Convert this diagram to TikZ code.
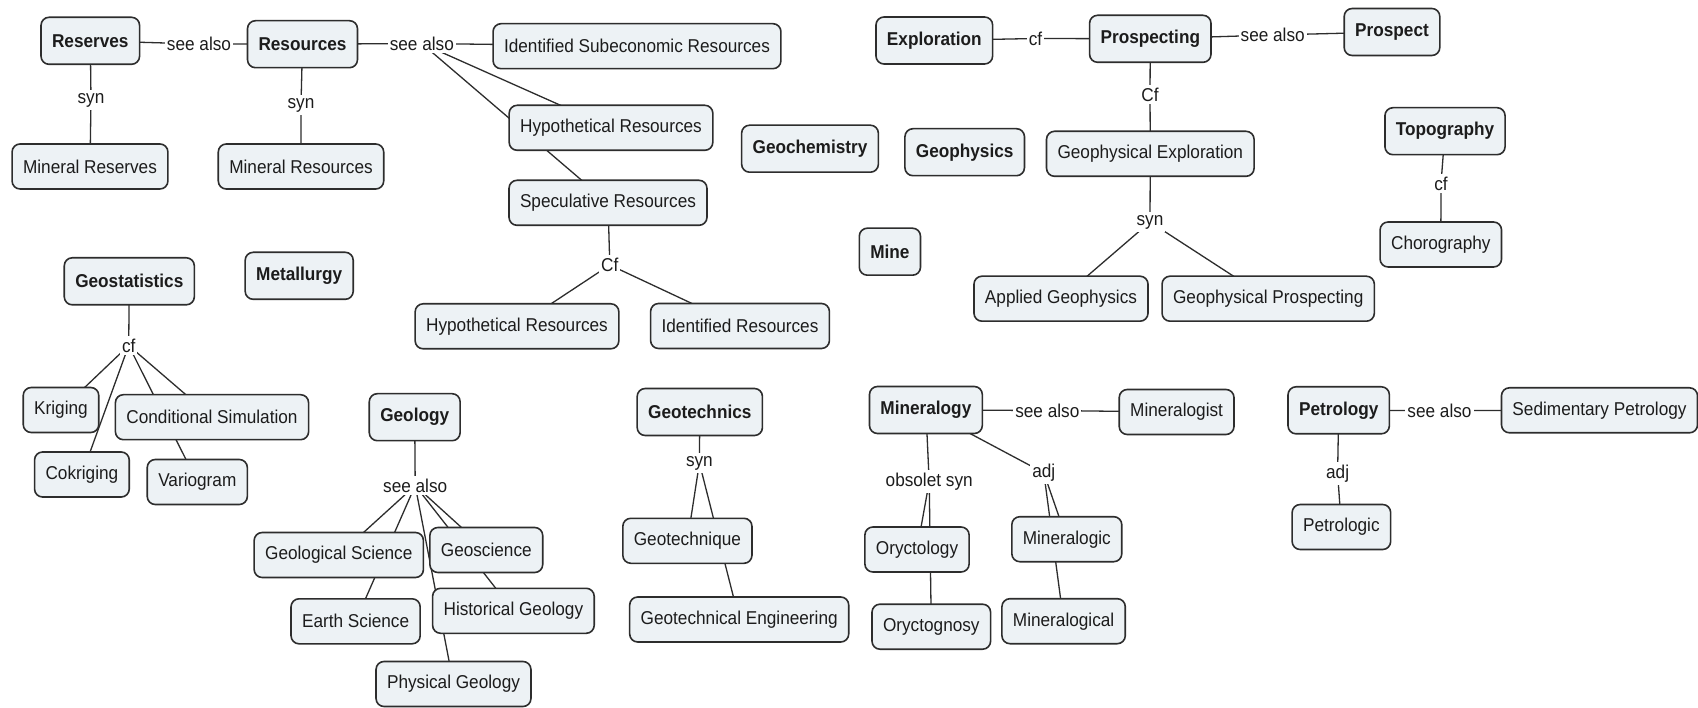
\documentclass[tikz,border=0pt]{standalone}
\usepackage{fontspec}
\setmainfont[FakeStretch=0.925]{Liberation Sans}
\usetikzlibrary{backgrounds}
\definecolor{boxfill}{RGB}{237,242,245}
\definecolor{boxline}{RGB}{45,45,45}
\definecolor{inkc}{RGB}{28,28,28}
\begin{document}
\begin{tikzpicture}[x=1pt,y=-1pt,
  concept/.style={draw=boxline, line width=1.6pt, fill=boxfill, rounded corners=8pt,
    minimum height=45pt, inner xsep=11pt, inner ysep=0pt,
    font=\fontsize{18.6}{21}\selectfont, text=inkc},
  keyconcept/.style={concept, minimum height=47pt, font=\fontsize{18.6}{21}\selectfont\bfseries},
  phrase/.style={fill=white, inner xsep=2pt, inner ysep=3pt,
    font=\fontsize{18.6}{21}\selectfont, text=inkc},
  link/.style={draw=boxline, line width=1.3pt}]
\useasboundingbox (0,0) rectangle (1698,708);

% --- resources and reserves ---
\node[keyconcept] (reserves) at (90.3,40.8) {Reserves};
\node[keyconcept] (resources) at (302.5,44.2) {Resources};
\node[concept] (idsub) at (637,46.2) {Identified Subeconomic Resources};
\node[concept] (minreserves) at (90,166.5) {Mineral Reserves};
\node[concept] (minresources) at (301,166.5) {Mineral Resources};
\node[concept] (hypa) at (611,127.8) {Hypothetical Resources};
\node[concept] (spec) at (608,202.8) {Speculative Resources};
\node[concept] (hypb) at (517,326.3) {Hypothetical Resources};
\node[concept] (idres) at (740,326) {Identified Resources};

\node[phrase] (pRR) at (199,44) {see also};
\node[phrase] (pResvSyn) at (91,100) {syn};
\node[phrase] (pResSyn) at (301,105) {syn};
\node[phrase] (pResSee) at (421.8,43.5) {see also};
\node[phrase] (pSpecCf) at (609.8,265) {Cf};

% --- stand-alone subjects ---
\node[keyconcept] (geostat) at (129.3,281.3) {Geostatistics};
\node[keyconcept] (metall) at (299.2,275.8) {Metallurgy};
\node[keyconcept] (geochem) at (810,148.7) {Geochemistry};
\node[keyconcept] (geophys) at (964.7,152.2) {Geophysics};
\node[keyconcept] (mine) at (889.9,251.7) {Mine};

% --- geostatistics ---
\node[concept] (kriging) at (61,410) {Kriging};
\node[concept] (condsim) at (212,417.2) {Conditional Simulation};
\node[concept] (cokriging) at (81.9,474.5) {Cokriging};
\node[concept] (variogram) at (197.3,482) {Variogram};
\node[phrase] (pGeostatCf) at (128.7,345.5) {cf};

% --- exploration and prospecting ---
\node[keyconcept] (explor) at (934.3,40.5) {Exploration};
\node[keyconcept] (prospecting) at (1150.3,38.8) {Prospecting};
\node[keyconcept] (prospect) at (1392,32) {Prospect};
\node[concept] (geoexpl) at (1150.3,153.8) {Geophysical Exploration};
\node[concept] (appgeo) at (1061,298.7) {Applied Geophysics};
\node[concept] (geoprosp) at (1268.2,298.7) {Geophysical Prospecting};
\node[phrase] (pExplCf) at (1035.5,38.5) {cf};
\node[phrase] (pProsSee) at (1272.7,35) {see also};
\node[phrase] (pProsCf) at (1150,94.5) {Cf};
\node[phrase] (pGESyn) at (1150,222) {syn};

% --- topography ---
\node[keyconcept] (topo) at (1445,131.2) {Topography};
\node[concept] (choro) at (1440.8,244.5) {Chorography};
\node[phrase] (pTopoCf) at (1441,183.5) {cf};

% --- geology ---
\node[keyconcept] (geology) at (414.7,417.2) {Geology};
\node[concept] (geolsci) at (338.8,555) {Geological Science};
\node[concept] (earthsci) at (355.6,621.3) {Earth Science};
\node[concept] (geosci) at (486.3,550) {Geoscience};
\node[concept] (histgeo) at (513.4,610.8) {Historical Geology};
\node[concept] (physgeo) at (453.5,684) {Physical Geology};
\node[phrase] (pGeolSee) at (415.2,485.5) {see also};

% --- geotechnics ---
\node[keyconcept] (geotech) at (699.8,412) {Geotechnics};
\node[concept] (geotechnique) at (687.4,540.8) {Geotechnique};
\node[concept] (geotecheng) at (739.2,619.5) {Geotechnical Engineering};
\node[phrase] (pGeotSyn) at (699.4,463) {syn};

% --- mineralogy ---
\node[keyconcept] (mineralogy) at (925.9,410) {Mineralogy};
\node[concept] (mineralogist) at (1176.6,412) {Mineralogist};
\node[concept] (oryctology) at (917,549.5) {Oryctology};
\node[concept] (oryctognosy) at (931.3,626.7) {Oryctognosy};
\node[concept] (mineralogic) at (1066.8,539.2) {Mineralogic};
\node[concept] (mineralogical) at (1063.6,621.2) {Mineralogical};
\node[phrase] (pMinSee) at (1047.3,410.5) {see also};
\node[phrase] (pMinObs) at (929.2,481.8) {obsolet syn};
\node[phrase] (pMinAdj) at (1043.8,472.8) {adj};

% --- petrology ---
\node[keyconcept] (petrology) at (1338.7,410.3) {Petrology};
\node[concept] (sedpet) at (1599.5,410.3) {Sedimentary Petrology};
\node[concept] (petrologic) at (1341.4,527) {Petrologic};
\node[phrase] (pPetSee) at (1439.5,410.5) {see also};
\node[phrase] (pPetAdj) at (1337.6,473.2) {adj};

% connectors run centre to centre underneath the boxes
\begin{pgfonlayer}{background}
\fill[white] (0,0) rectangle (1698,708);
\draw[link] (reserves.center) -- (pRR.center) -- (resources.center);
\draw[link] (reserves.center) -- (pResvSyn.center) -- (minreserves.center);
\draw[link] (resources.center) -- (pResSyn.center) -- (minresources.center);
\draw[link] (resources.center) -- (pResSee.center);
\draw[link] (pResSee.center) -- (idsub.center);
\draw[link] (pResSee.center) -- (hypa.center);
\draw[link] (pResSee.center) -- (spec.center);
\draw[link] (spec.center) -- (pSpecCf.center);
\draw[link] (pSpecCf.center) -- (hypb.center);
\draw[link] (pSpecCf.center) -- (idres.center);

\draw[link] (geostat.center) -- (pGeostatCf.center);
\draw[link] (pGeostatCf.center) -- (kriging.center);
\draw[link] (pGeostatCf.center) -- (cokriging.center);
\draw[link] (pGeostatCf.center) -- (condsim.center);
\draw[link] (pGeostatCf.center) -- (variogram.center);

\draw[link] (explor.center) -- (pExplCf.center) -- (prospecting.center);
\draw[link] (prospecting.center) -- (pProsSee.center) -- (prospect.center);
\draw[link] (prospecting.center) -- (pProsCf.center) -- (geoexpl.center);
\draw[link] (geoexpl.center) -- (pGESyn.center);
\draw[link] (pGESyn.center) -- (appgeo.center);
\draw[link] (pGESyn.center) -- (geoprosp.center);

\draw[link] (topo.center) -- (pTopoCf.center) -- (choro.center);

\draw[link] (geology.center) -- (pGeolSee.center);
\draw[link] (pGeolSee.center) -- (geolsci.center);
\draw[link] (pGeolSee.center) -- (earthsci.center);
\draw[link] (pGeolSee.center) -- (geosci.center);
\draw[link] (pGeolSee.center) -- (histgeo.center);
\draw[link] (pGeolSee.center) -- (physgeo.center);

\draw[link] (geotech.center) -- (pGeotSyn.center);
\draw[link] (pGeotSyn.center) -- (geotechnique.center);
\draw[link] (pGeotSyn.center) -- (geotecheng.center);

\draw[link] (mineralogy.center) -- (pMinSee.center) -- (mineralogist.center);
\draw[link] (mineralogy.center) -- (pMinObs.center);
\draw[link] (pMinObs.center) -- (oryctology.center);
\draw[link] (pMinObs.center) -- (oryctognosy.center);
\draw[link] (mineralogy.center) -- (pMinAdj.center);
\draw[link] (pMinAdj.center) -- (mineralogic.center);
\draw[link] (pMinAdj.center) -- (mineralogical.center);

\draw[link] (petrology.center) -- (pPetSee.center) -- (sedpet.center);
\draw[link] (petrology.center) -- (pPetAdj.center) -- (petrologic.center);
\end{pgfonlayer}
\end{tikzpicture}
\end{document}
